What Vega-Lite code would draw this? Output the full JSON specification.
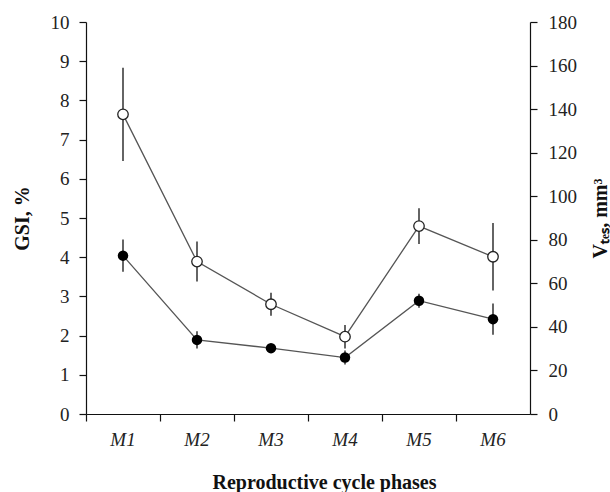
{
  "$schema": "https://vega.github.io/schema/vega-lite/v6.json",
  "width": 444,
  "height": 392,
  "autosize": "none",
  "padding": {"left": 86, "top": 22, "right": 80, "bottom": 78},
  "background": "white",
  "config": {
    "view": {"stroke": null},
    "font": "Liberation Serif",
    "axis": {
      "labelFont": "Liberation Serif",
      "titleFont": "Liberation Serif",
      "labelFontSize": 19,
      "titleFontSize": 20,
      "titleFontWeight": "bold",
      "labelColor": "#222",
      "titleColor": "#111",
      "domainColor": "#111",
      "tickColor": "#111",
      "domainWidth": 1.2,
      "tickWidth": 1.2,
      "tickSize": 7,
      "grid": false
    }
  },
  "data": {
    "values": [
      {"phase": "M1", "gsi": 4.04, "gsi_se": 0.41, "vtes": 137.6, "vtes_se": 21.4},
      {"phase": "M2", "gsi": 1.89, "gsi_se": 0.22, "vtes": 70.0, "vtes_se": 9.2},
      {"phase": "M3", "gsi": 1.68, "gsi_se": 0.1, "vtes": 50.4, "vtes_se": 5.3},
      {"phase": "M4", "gsi": 1.44, "gsi_se": 0.18, "vtes": 35.5, "vtes_se": 5.4},
      {"phase": "M5", "gsi": 2.89, "gsi_se": 0.18, "vtes": 86.3, "vtes_se": 8.2},
      {"phase": "M6", "gsi": 2.42, "gsi_se": 0.4, "vtes": 72.2, "vtes_se": 15.5}
    ]
  },
  "encoding": {
    "x": {
      "field": "phase",
      "type": "nominal",
      "scale": {"type": "band", "paddingInner": 0, "paddingOuter": 0},
      "axis": {
        "title": "Reproductive  cycle phases",
        "labelAngle": 0,
        "labelFontStyle": "italic",
        "labelPadding": 9,
        "titlePadding": 23,
        "titleX": 238,
        "bandPosition": 0
      }
    }
  },
  "layer": [
    {
      "layer": [
        {
          "mark": {"type": "line", "color": "#555", "strokeWidth": 1.3},
          "encoding": {
            "y": {"field": "gsi", "type": "quantitative", "title": "GSI, %", "scale": {"domain": [0, 10]},
              "axis": {"orient": "left", "tickCount": 10, "labelPadding": 10, "titlePadding": 18}}
          }
        },
        {
          "mark": {"type": "errorbar", "color": "#111", "thickness": 1.3},
          "encoding": {
            "y": {"field": "gsi", "type": "quantitative", "title": "GSI, %"},
            "yError": {"field": "gsi_se"}
          }
        },
        {
          "mark": {"type": "point", "filled": true, "color": "#000", "opacity": 1, "size": 110},
          "encoding": {
            "y": {"field": "gsi", "type": "quantitative", "title": "GSI, %"}
          }
        }
      ]
    },
    {
      "layer": [
        {
          "mark": {"type": "line", "color": "#555", "strokeWidth": 1.3},
          "encoding": {
            "y": {"field": "vtes", "type": "quantitative", "title": "Vₜₑₛ, mm³", "scale": {"domain": [0, 180]},
              "axis": {"orient": "right", "tickCount": 9, "titlePadding": 14, "titleAngle": 270, "titleBaseline": "top", "labelPadding": 11}}
          }
        },
        {
          "mark": {"type": "errorbar", "color": "#111", "thickness": 1.3},
          "encoding": {
            "y": {"field": "vtes", "type": "quantitative", "title": "Vₜₑₛ, mm³"},
            "yError": {"field": "vtes_se"}
          }
        },
        {
          "mark": {"type": "point", "filled": true, "fill": "white", "stroke": "#222", "strokeWidth": 1.3, "opacity": 1, "size": 110},
          "encoding": {
            "y": {"field": "vtes", "type": "quantitative", "title": "Vₜₑₛ, mm³"}
          }
        }
      ]
    }
  ],
  "resolve": {"scale": {"y": "independent"}}
}
